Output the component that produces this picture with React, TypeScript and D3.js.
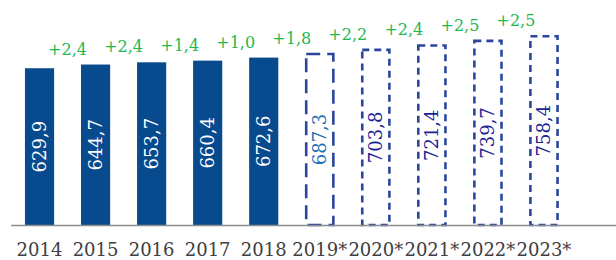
import { useEffect, useRef } from "react";
import * as d3 from "d3";

// categories and values
const years = ["2014", "2015", "2016", "2017", "2018", "2019*", "2020*", "2021*", "2022*", "2023*"];
const values = [629.9, 644.7, 653.7, 660.4, 672.6, 687.3, 703.8, 721.4, 739.7, 758.4];
const forecast = [false, false, false, false, false, true, true, true, true, true];
// growth labels sit between neighbouring years
const growth = ["+2,4", "+2,4", "+1,4", "+1,0", "+1,8", "+2,2", "+2,4", "+2,5", "+2,5"];

const W = 616;
const H = 260;
const FONT = "'DejaVu Serif', serif";

const fmt = (v: number) => v.toFixed(1).replace(".", ",");

export default function App() {
  const svgRef = useRef<SVGSVGElement>(null);

  useEffect(() => {
    if (!svgRef.current) return;
    const svg = d3.select(svgRef.current);
    svg.selectAll("*").remove();

    const baseY = 225;

    const x = d3
      .scaleBand<string>()
      .domain(years)
      .range([11.5, 572])
      .paddingInner(0.48)
      .paddingOuter(0.24);

    const y = d3.scaleLinear().domain([0, 900]).range([baseY, 1]);
    const bw = x.bandwidth();

    const data = years.map((yr, i) => ({ yr, v: values[i], f: forecast[i], i }));

    // actual bars
    svg
      .append("g")
      .selectAll("rect")
      .data(data.filter((d) => !d.f))
      .join("rect")
      .attr("x", (d) => x(d.yr)!)
      .attr("y", (d) => y(d.v))
      .attr("width", bw)
      .attr("height", (d) => baseY - y(d.v))
      .attr("fill", "#084a8e");

    // forecast boxes (dashed)
    svg
      .append("g")
      .selectAll("rect")
      .data(data.filter((d) => d.f))
      .join("rect")
      .attr("x", (d) => x(d.yr)! + 1)
      .attr("y", (d) => y(d.v))
      .attr("width", bw - 2)
      .attr("height", (d) => baseY - y(d.v))
      .attr("fill", "none")
      .attr("stroke", "#2b469c")
      .attr("stroke-width", 2.6)
      .attr("stroke-dasharray", (d) => (d.i === 5 ? "14,7" : "7,5"));

    // axis line
    svg
      .append("line")
      .attr("x1", 11)
      .attr("x2", W)
      .attr("y1", baseY + 0.5)
      .attr("y2", baseY + 0.5)
      .attr("stroke", "#8c8c8c")
      .attr("stroke-width", 1.5);

    // value labels, rotated in the middle of each bar
    svg
      .append("g")
      .selectAll("text")
      .data(data)
      .join("text")
      .attr("transform", (d) => {
        const cx = x(d.yr)! + bw / 2;
        const cy = (y(d.v) + baseY) / 2;
        return `translate(${cx},${cy}) rotate(-90)`;
      })
      .attr("text-anchor", "middle")
      .attr("dy", "0.35em")
      .attr("font-family", FONT)
      .attr("font-size", 18)
      .attr("fill", (d) => (!d.f ? "#ffffff" : d.i === 5 ? "#1f6db3" : "#1a2296"))
      .text((d) => fmt(d.v));

    // growth labels
    svg
      .append("g")
      .selectAll("text")
      .data(growth)
      .join("text")
      .attr("x", (_d, i) => (x(years[i])! + x(years[i + 1])!) / 2 + bw / 2)
      .attr("y", (_d, i) => y(Math.max(values[i], values[i + 1])) - 10)
      .attr("text-anchor", "middle")
      .attr("font-family", FONT)
      .attr("font-size", 16)
      .attr("fill", "#1fb84f")
      .text((d) => d);

    // year labels
    svg
      .append("g")
      .selectAll("text")
      .data(years)
      .join("text")
      .attr("x", (d) => x(d)! + bw / 2)
      .attr("y", 256)
      .attr("text-anchor", "middle")
      .attr("font-family", FONT)
      .attr("font-size", 18)
      .attr("fill", "#404040")
      .text((d) => d);
  }, []);

  return (
    <div style={{ position: "fixed", left: 0, top: 0, background: "#fff" }}>
      <svg ref={svgRef} width={W} height={H} style={{ display: "block" }} />
    </div>
  );
}
